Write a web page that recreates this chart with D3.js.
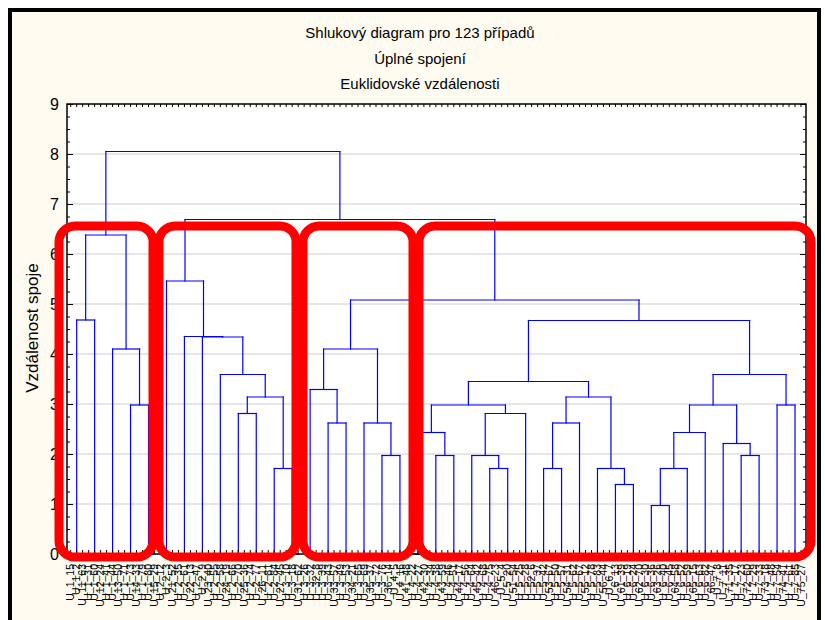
<!DOCTYPE html>
<html>
<head>
<meta charset="utf-8">
<script src="https://cdn.jsdelivr.net/npm/d3@7/dist/d3.min.js"></script>
<style>
  html, body { margin: 0; padding: 0; background: #ffffff; }
  svg { display: block; font-family: "Liberation Sans", Arial, sans-serif; }
</style>
</head>
<body>
<svg id="chart" width="825" height="620"></svg>
<script>
// ---------------- DATA ----------------
const titleLines = ["Shlukový diagram pro 123 případů", "Úplné spojení", "Euklidovské vzdálenosti"];
const yAxisTitle = "Vzdálenost spoje";
const yTicks = [0, 1, 2, 3, 4, 5, 6, 7, 8, 9];

// 123 cases in dendrogram order
const caseLabels = [
  "U_1_15","U_1_2","U_11_63", "U_1_31","U_1_60","U_12_24", "U_1_41","U_1_44","U_13_50",
  "U_1_71","U_1_73","U_14_33", "U_1_79","U_1_80","U_15_29", "U_2_12","U_2_3","U_21_52",
  "U_2_35","U_2_61","U_22_13", "U_2_47","U_2_9","U_23_40", "U_2_55","U_2_58","U_24_19",
  "U_2_66","U_2_70","U_25_36", "U_2_74","U_2_77","U_26_11", "U_2_81","U_2_84","U_27_45",
  "U_3_10","U_3_18","U_31_62", "U_3_26","U_3_32","U_32_8", "U_3_39","U_3_43","U_33_57",
  "U_3_49","U_3_53","U_34_21", "U_3_65","U_3_69","U_35_37", "U_3_72","U_3_76","U_36_14",
  "U_4_5","U_4_16","U_41_48", "U_4_22","U_4_27","U_42_30", "U_4_34","U_4_38","U_43_59",
  "U_4_46","U_4_51","U_44_17", "U_4_56","U_4_64","U_45_42", "U_4_68","U_4_75","U_46_23",
  "U_5_4","U_5_20","U_51_54", "U_5_25","U_5_28","U_52_6", "U_5_37","U_5_42","U_53_67",
  "U_5_50","U_5_57","U_54_31", "U_5_62","U_5_67","U_55_12", "U_5_78","U_5_83","U_56_44",
  "U_6_7","U_6_13","U_61_39", "U_6_19","U_6_24","U_62_70", "U_6_30","U_6_36","U_63_26",
  "U_6_40","U_6_45","U_64_58", "U_6_52","U_6_59","U_65_15", "U_6_63","U_6_82","U_66_47",
  "U_7_8","U_7_11","U_71_35", "U_7_17","U_7_23","U_72_60", "U_7_29","U_7_33","U_73_18",
  "U_7_48","U_7_54","U_74_41", "U_7_61","U_7_85","U_75_27"
];

// groups of identical cases (joined at distance 0), indices into caseLabels
const leafGroups = [
  [0,1,2],[3,4,5],[6,7,8],[9,10,11],[12,13,14],[15,16,17],[18,19,20],[21,22,23],
  [24,25,26],[27,28,29],[30,31,32],[33,34,35],[36,37,38],[39,40,41],[42,43,44],
  [45,46,47],[48,49,50],[51,52,53],[54,55,56],[57,58,59],[60,61,62],[63,64,65],
  [66,67,68],[69,70,71],[72,73,74],[75,76,77],[78,79,80],[81,82,83],[84,85,86],
  [87,88,89],[90,91,92],[93,94,95],[96,97,98],[99,100,101],[102,103,104],
  [105,106,107],[108,109,110],[111,112,113],[114,115,116],[117,118,119],[120,121,122]
];

// linkage: [left, right, linkage distance]; "g#" = leaf group, "m#" = earlier merge
const merges = [
  ["g0","g1",4.68],   // m0
  ["g3","g4",2.98],   // m1
  ["g2","m1",4.10],   // m2
  ["m0","m2",6.38],   // m3
  ["g9","g10",2.81],  // m4
  ["g11","g12",1.71], // m5
  ["m4","m5",3.14],   // m6
  ["g8","m6",3.59],   // m7
  ["g7","m7",4.34],   // m8
  ["g6","m8",4.35],   // m9
  ["g5","m9",5.46],   // m10
  ["g14","g15",2.62], // m11
  ["g13","m11",3.29], // m12
  ["g17","g18",1.97], // m13
  ["g16","m13",2.62], // m14
  ["m12","m14",4.10], // m15
  ["g20","g21",1.97], // m16
  ["g19","m16",2.43], // m17
  ["g23","g24",1.71], // m18
  ["g22","m18",1.97], // m19
  ["m19","g25",2.81], // m20
  ["m17","m20",2.98], // m21
  ["g26","g27",1.71], // m22
  ["m22","g28",2.62], // m23
  ["g30","g31",1.39], // m24
  ["g29","m24",1.71], // m25
  ["m23","m25",3.14], // m26
  ["m21","m26",3.45], // m27
  ["g32","g33",0.97], // m28
  ["m28","g34",1.71], // m29
  ["m29","g35",2.43], // m30
  ["g37","g38",1.97], // m31
  ["g36","m31",2.21], // m32
  ["m30","m32",2.98], // m33
  ["g39","g40",2.98], // m34
  ["m33","m34",3.59], // m35
  ["m27","m35",4.67], // m36
  ["m15","m36",5.08], // m37
  ["m10","m37",6.69], // m38
  ["m3","m38",8.05]   // m39
];

// ---------------- CHART ----------------
const svg = d3.select("#chart");
const plot = { left: 67, right: 806, top: 104, bottom: 554 };

// outer window
svg.append("rect").attr("x", 10).attr("y", 10).attr("width", 809).attr("height", 640)
  .attr("fill", "#fffbf0").attr("stroke", "#000").attr("stroke-width", 4);

// plot background
svg.append("rect").attr("x", plot.left).attr("y", plot.top)
  .attr("width", plot.right - plot.left).attr("height", plot.bottom - plot.top)
  .attr("fill", "#ffffff");

const x = d3.scaleBand().domain(caseLabels).range([67.7, 804]);
const y = d3.scaleLinear().domain([0, 9]).range([plot.bottom, plot.top]);
const cx = lbl => x(lbl) + x.bandwidth() / 2;

// gridlines
svg.append("g").selectAll("line").data(yTicks.filter(d => d > 0 && d < 9)).join("line")
  .attr("x1", plot.left).attr("x2", plot.right)
  .attr("y1", d => y(d)).attr("y2", d => y(d))
  .attr("stroke", "#dedede").attr("stroke-width", 1.5);

// dendrogram
const nodes = {};
const segs = [];
leafGroups.forEach((g, i) => {
  const xs = g.map(k => cx(caseLabels[k]));
  nodes["g" + i] = { x: d3.mean(xs), h: 0 };
  segs.push([d3.min(xs), 0, d3.max(xs), 0]);
});
merges.forEach((m, i) => {
  const a = nodes[m[0]], b = nodes[m[1]], h = m[2];
  segs.push([a.x, a.h, a.x, h]);
  segs.push([b.x, b.h, b.x, h]);
  segs.push([a.x, h, b.x, h]);
  nodes["m" + i] = { x: (a.x + b.x) / 2, h: h };
});
svg.append("g").selectAll("line").data(segs).join("line")
  .attr("x1", d => d[0]).attr("y1", d => y(d[1]))
  .attr("x2", d => d[2]).attr("y2", d => y(d[3]))
  .attr("stroke", "#0000ff").attr("stroke-width", 1.2).attr("stroke-linecap", "square");

// axes
const minor = d3.range(0, 36).map(i => i / 4).concat([9]);
const axL = svg.append("g").attr("transform", `translate(${plot.left},0)`)
  .call(d3.axisLeft(y).tickValues(yTicks).tickSize(-6).tickPadding(8).tickFormat(d3.format("d")));
axL.select(".domain").remove();
axL.selectAll("text").style("font-size", "16px").attr("fill", "#000");
svg.append("g").attr("transform", `translate(${plot.left},0)`)
  .call(d3.axisLeft(y).tickValues(minor).tickSize(-3).tickFormat(""))
  .select(".domain").remove();
svg.append("g").attr("transform", `translate(${plot.right},0)`)
  .call(d3.axisRight(y).tickValues(yTicks).tickSize(-6).tickFormat(""))
  .select(".domain").remove();
svg.append("g").attr("transform", `translate(${plot.right},0)`)
  .call(d3.axisRight(y).tickValues(minor).tickSize(-3).tickFormat(""))
  .select(".domain").remove();
svg.append("g").attr("transform", `translate(0,${plot.top})`)
  .call(d3.axisTop(x).tickSize(-3).tickFormat(""))
  .select(".domain").remove();
const axB = svg.append("g").attr("transform", `translate(0,${plot.bottom})`)
  .call(d3.axisBottom(x).tickSize(-4));
axB.select(".domain").remove();
axB.selectAll("text")
  .attr("transform", "rotate(-90)")
  .attr("x", -10).attr("y", 0).attr("dy", "0.35em")
  .style("text-anchor", "end").style("font-size", "10.5px").attr("fill", "#000");

// frame
svg.append("rect").attr("x", plot.left).attr("y", plot.top)
  .attr("width", plot.right - plot.left).attr("height", plot.bottom - plot.top)
  .attr("fill", "none").attr("stroke", "#000").attr("stroke-width", 1.5);

// titles
svg.append("g").selectAll("text").data(titleLines).join("text")
  .attr("x", 420).attr("y", (d, i) => 38 + i * 25.5)
  .attr("text-anchor", "middle").style("font-size", "15px").attr("fill", "#000")
  .text(d => d);

svg.append("text")
  .attr("transform", `translate(38,328) rotate(-90)`)
  .attr("text-anchor", "middle").style("font-size", "17px").attr("fill", "#000")
  .text(yAxisTitle);

// red highlight boxes (hand-drawn annotation overlay, pixel edges)
const boxEdges = [[59, 153], [159, 296], [303, 413], [419, 811]];
svg.append("g").selectAll("rect").data(boxEdges).join("rect")
  .attr("x", d => d[0]).attr("y", 226)
  .attr("width", d => d[1] - d[0]).attr("height", 557 - 226)
  .attr("rx", 16).attr("ry", 16)
  .attr("fill", "none").attr("stroke", "#ff0000").attr("stroke-width", 9);
</script>
</body>
</html>
